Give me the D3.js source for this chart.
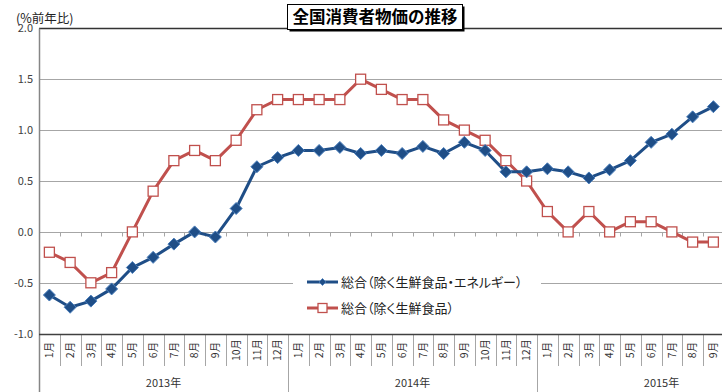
<!DOCTYPE html>
<html>
<head>
<meta charset="utf-8">
<script src="https://cdn.jsdelivr.net/npm/d3@7"></script>
<style>
  html, body { margin: 0; padding: 0; background: #fff; }
  svg { display: block; }
  text { font-family: "Noto Sans CJK JP", "Noto Sans", sans-serif; }
  .palt { font-feature-settings: "palt" 1; }
</style>
</head>
<body>
<svg id="chart" width="722" height="392"></svg>
<script>
// Monthly categories, Jan 2013 – Sep 2015
const years = ["2013年", "2014年", "2015年"];
const monthsPerYear = [12, 12, 9];
const monthLabels = ["1月","2月","3月","4月","5月","6月","7月","8月","9月","10月","11月","12月"];

// Year-on-year change (%)
const coreCore = [ // 総合（除く生鮮食品・エネルギー）
  -0.62, -0.74, -0.68, -0.56, -0.35, -0.25, -0.12, 0.00, -0.05, 0.23, 0.64, 0.73,
   0.80,  0.80,  0.83,  0.77,  0.80,  0.77,  0.84, 0.77,  0.88, 0.80, 0.59, 0.59,
   0.62,  0.59,  0.53,  0.61,  0.70,  0.88,  0.96, 1.13,  1.23
];
const core = [ // 総合（除く生鮮食品）
  -0.2, -0.3, -0.5, -0.4, 0.0, 0.4, 0.7, 0.8, 0.7, 0.9, 1.2, 1.3,
   1.3,  1.3,  1.3,  1.5, 1.4, 1.3, 1.3, 1.1, 1.0, 0.9, 0.7, 0.5,
   0.2,  0.0,  0.2,  0.0, 0.1, 0.1, 0.0, -0.1, -0.1
];
const yTicks = [2.0, 1.5, 1.0, 0.5, 0.0, -0.5, -1.0];
const seriesNames = ["総合（除く生鮮食品・エネルギー）", "総合（除く生鮮食品）"];
const title = "全国消費者物価の推移";
const unitLabel = "(%前年比)";

const blue = "#1F4E87", blueLight = "#4A7EBB", red = "#C0504D";

// Flat list of month entries
const cats = [];
years.forEach((y, yi) => {
  for (let m = 0; m < monthsPerYear[yi]; m++) cats.push({ year: yi, month: m });
});

const svg = d3.select("#chart");
const left = 39, bw = 20.75;
const x = d3.scaleBand().domain(d3.range(cats.length)).range([left, left + bw * cats.length]).padding(0);
const y = d3.scaleLinear().domain([-1, 2]).range([333.7, 28.3]);
const crisp = v => Math.round(v) + 0.5;
const W = 722;

// Horizontal gridlines
svg.append("g").selectAll("line").data(yTicks.filter(t => t > -1 && t < 2)).join("line")
  .attr("x1", left).attr("x2", W)
  .attr("y1", d => crisp(y(d))).attr("y2", d => crisp(y(d)))
  .attr("stroke", "#A6A6A6").attr("stroke-width", 1.2);

// Top border line
svg.append("line").attr("x1", left).attr("x2", W)
  .attr("y1", crisp(y(2))).attr("y2", crisp(y(2)))
  .attr("stroke", "#333").attr("stroke-width", 1.3);

// Tick marks along the zero line at category boundaries
svg.append("g").selectAll("line").data(d3.range(1, cats.length + 1)).join("line")
  .attr("x1", i => crisp(left + i * bw)).attr("x2", i => crisp(left + i * bw))
  .attr("y1", crisp(y(0))).attr("y2", crisp(y(0)) + 4)
  .attr("stroke", "#A6A6A6").attr("stroke-width", 1);

// Y axis labels
svg.append("g").selectAll("text").data(yTicks).join("text")
  .attr("x", 33).attr("y", d => y(d)).attr("dy", "0.35em")
  .attr("text-anchor", "end").attr("font-size", 11).attr("fill", "#404040")
  .text(d => d.toFixed(1));

// Unit label
svg.append("text").attr("x", 16).attr("y", 23).attr("font-size", 12.5).attr("fill", "#222")
  .text(unitLabel);

// Category area: month cells and year groups
const baseY = crisp(y(-1));
svg.append("g").selectAll("line").data(d3.range(1, cats.length + 1)).join("line")
  .attr("x1", i => crisp(left + i * bw)).attr("x2", i => crisp(left + i * bw))
  .attr("y1", baseY).attr("y2", 366)
  .attr("stroke", "#A6A6A6").attr("stroke-width", 1);

const yearStarts = [];
let acc = 0;
monthsPerYear.forEach(n => { yearStarts.push(acc); acc += n; });
svg.append("g").selectAll("line").data(yearStarts.slice(1)).join("line")
  .attr("x1", i => crisp(x(i))).attr("x2", i => crisp(x(i)))
  .attr("y1", baseY).attr("y2", 392)
  .attr("stroke", "#A6A6A6").attr("stroke-width", 1);

svg.append("g").selectAll("text").data(cats).join("text")
  .attr("transform", (d, i) => `translate(${x(i) + bw / 2},350) rotate(-90)`)
  .attr("text-anchor", "middle").attr("dy", "0.35em")
  .attr("font-size", 10.5).attr("fill", "#333")
  .text(d => monthLabels[d.month]);

svg.append("g").selectAll("text").data(years).join("text")
  .attr("x", (d, i) => left + (yearStarts[i] + 6) * bw).attr("y", 383)
  .attr("text-anchor", "middle").attr("dy", "0.35em")
  .attr("font-size", 11).attr("fill", "#333")
  .text(d => d);

// Axis lines
svg.append("line").attr("x1", crisp(left)).attr("x2", crisp(left))
  .attr("y1", crisp(y(2))).attr("y2", 392)
  .attr("stroke", "#868686").attr("stroke-width", 1.5);
svg.append("line").attr("x1", left).attr("x2", W)
  .attr("y1", baseY).attr("y2", baseY)
  .attr("stroke", "#404040").attr("stroke-width", 1.5);

// Legend box
const lg = svg.append("g");
lg.append("rect").attr("x", 293).attr("y", 268).attr("width", 248).attr("height", 50).attr("fill", "#fff");

// Series lines
const line = d3.line().x((d, i) => x(i) + bw / 2).y(d => y(d));
svg.append("path").datum(core).attr("d", line)
  .attr("fill", "none").attr("stroke", red).attr("stroke-width", 3).attr("stroke-linejoin", "round");
svg.append("path").datum(coreCore).attr("d", line)
  .attr("fill", "none").attr("stroke", blue).attr("stroke-width", 3).attr("stroke-linejoin", "round");

// Markers
const diamond = (cx, cy, r) => `M${cx},${cy - r}L${cx + r},${cy}L${cx},${cy + r}L${cx - r},${cy}Z`;
svg.append("g").selectAll("rect").data(core).join("rect")
  .attr("x", (d, i) => x(i) + bw / 2 - 5).attr("y", d => y(d) - 5)
  .attr("width", 10).attr("height", 10)
  .attr("fill", "#fff").attr("stroke", red).attr("stroke-width", 1.3);
svg.append("g").selectAll("path").data(coreCore).join("path")
  .attr("d", (d, i) => diamond(x(i) + bw / 2, y(d), 6))
  .attr("fill", blue).attr("stroke", blueLight).attr("stroke-width", 1);

// Legend entries
const legendRows = [
  { name: seriesNames[0], color: blue, y: 282, marker: "diamond" },
  { name: seriesNames[1], color: red, y: 308, marker: "square" }
];
legendRows.forEach(r => {
  lg.append("line").attr("x1", 307).attr("x2", 338).attr("y1", r.y).attr("y2", r.y)
    .attr("stroke", r.color).attr("stroke-width", 3);
  if (r.marker === "diamond") {
    lg.append("path").attr("d", diamond(322.5, r.y, 3.5)).attr("fill", blue).attr("stroke", blueLight).attr("stroke-width", 0.8);
  } else {
    lg.append("rect").attr("x", 318).attr("y", r.y - 4.5).attr("width", 9).attr("height", 9)
      .attr("fill", "#fff").attr("stroke", red).attr("stroke-width", 1.3);
  }
  lg.append("text").attr("class", "palt").attr("x", 341).attr("y", r.y).attr("dy", "0.36em")
    .attr("font-size", 13).attr("fill", "#222").text(r.name);
});

// Title box with drop shadow
const tg = svg.append("g");
tg.append("rect").attr("x", 289.5).attr("y", 6.5).attr("width", 175).attr("height", 25).attr("fill", "#000");
tg.append("rect").attr("x", 287.5).attr("y", 4.5).attr("width", 175).attr("height", 25)
  .attr("fill", "#fff").attr("stroke", "#000").attr("stroke-width", 1);
tg.append("text").attr("x", 375).attr("y", 17).attr("dy", "0.36em").attr("text-anchor", "middle")
  .attr("font-size", 16.5).attr("font-weight", "bold").attr("fill", "#000").text(title);
</script>
</body>
</html>
